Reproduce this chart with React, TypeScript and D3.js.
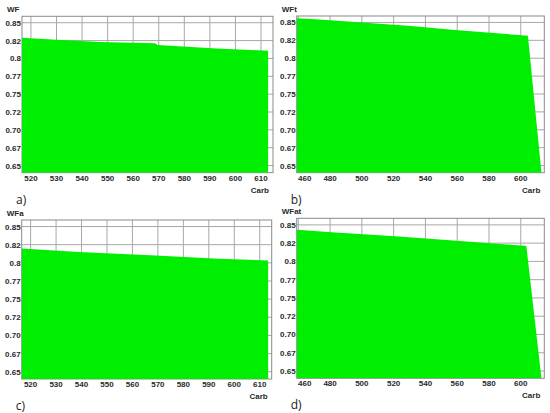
import * as d3 from "d3";

// ---- data ----
const yTicks = [0.65, 0.675, 0.7, 0.725, 0.75, 0.775, 0.8, 0.825, 0.85];
const yTickLabels = ["0.65", "0.67", "0.70", "0.72", "0.75", "0.77", "0.8", "0.82", "0.85"];

const xTicksNarrow = [520, 530, 540, 550, 560, 570, 580, 590, 600, 610];
const xTicksWide = [460, 480, 500, 520, 540, 560, 580, 600];

const carbA = [516.5, 530, 547, 568.5, 569.5, 592.5, 612.8];
const wfA = [0.829, 0.826, 0.823, 0.8211, 0.8187, 0.814, 0.8108];

const carbB = [459, 468.5, 529, 558.5, 604.5, 613];
const wfB = [0.856, 0.8548, 0.8454, 0.8394, 0.8314, 0.64];

const carbC = [516.5, 539, 569, 594, 613.3];
const wfC = [0.8196, 0.815, 0.8102, 0.8056, 0.8032];

const carbD = [459, 481, 521, 559.5, 603.5, 613];
const wfD = [0.8432, 0.84, 0.8344, 0.8282, 0.8212, 0.64];

const panels = [
  { id: "a", yTitle: "WF", tag: "a)", carb: carbA, wf: wfA, xDomain: [516.5, 614.7], xTicks: xTicksNarrow,
    rect: { l: 22, r: 273, t: 16.3, b: 172.7 } },
  { id: "b", yTitle: "WFt", tag: "b)", carb: carbB, wf: wfB, xDomain: [459, 614.8], xTicks: xTicksWide,
    rect: { l: 296.7, r: 544.3, t: 16, b: 172.7 } },
  { id: "c", yTitle: "WFa", tag: "c)", carb: carbC, wf: wfC, xDomain: [516.5, 614.7], xTicks: xTicksNarrow,
    rect: { l: 21.7, r: 271.7, t: 220, b: 379 } },
  { id: "d", yTitle: "WFat", tag: "d)", carb: carbD, wf: wfD, xDomain: [459, 614.8], xTicks: xTicksWide,
    rect: { l: 296.7, r: 544.3, t: 218.3, b: 378.3 } },
];

const font = "'Liberation Sans', Arial, sans-serif";
const textColor = "#2a2a2a";

function Panel({ p }: { p: (typeof panels)[number] }) {
  const { l, r, t, b } = p.rect;
  const x = d3.scaleLinear().domain(p.xDomain).range([l, r]);
  const y = d3.scaleLinear().domain([0.64, 0.859]).range([b, t]);
  const pts = p.carb.map((c, i) => [c, p.wf[i]] as [number, number]);
  const area = d3
    .area<[number, number]>()
    .x((d) => x(d[0]))
    .y0(b)
    .y1((d) => y(d[1]))(pts);

  return (
    <g>
      <defs>
        <clipPath id={"clip-" + p.id}>
          <rect x={l} y={t} width={r - l} height={b - t} />
        </clipPath>
      </defs>
      {/* grid */}
      {p.xTicks.map((v) => (
        <line key={"gx" + v} x1={x(v)} x2={x(v)} y1={t} y2={b} stroke="#a8a8a8" strokeWidth={1} />
      ))}
      {yTicks.map((v) => (
        <line key={"gy" + v} x1={l} x2={r} y1={y(v)} y2={y(v)} stroke="#a8a8a8" strokeWidth={1} />
      ))}
      <rect x={l} y={t} width={r - l} height={b - t} fill="none" stroke="#8a8a8a" strokeWidth={1} />
      {/* filled area */}
      <path d={area ?? ""} fill="#00ee00" clipPath={`url(#clip-${p.id})`} />
      {/* y tick labels */}
      {yTicks.map((v, i) => (
        <text key={"ty" + v} x={l - 1} y={y(v) + 3} textAnchor="end" fontSize={8} fontWeight="bold"
          fontFamily={font} fill={textColor}>
          {yTickLabels[i]}
        </text>
      ))}
      {/* x tick labels */}
      {p.xTicks.map((v) => (
        <text key={"tx" + v} x={Math.max(x(v), l + 8)} y={b + 8} textAnchor="middle" fontSize={8}
          fontWeight="bold" fontFamily={font} fill={textColor}>
          {v}
        </text>
      ))}
      <text x={l - 15} y={t - 4} fontSize={8} fontWeight="bold" fontFamily={font} fill={textColor}>
        {p.yTitle}
      </text>
      <text x={r - 4} y={b + 20} textAnchor="end" fontSize={8} fontWeight="bold" fontFamily={font}
        fill={textColor}>
        Carb
      </text>
      <text x={l - 6} y={b + 31} fontSize={12} fontFamily="'Open Sans', sans-serif" fill="#222">
        {p.tag}
      </text>
    </g>
  );
}

export default function App() {
  return (
    <svg width={550} height={413} style={{ position: "absolute", left: 0, top: 0, background: "#fff" }}>
      <rect width={550} height={413} fill="#fff" />
      {panels.map((p) => (
        <Panel key={p.id} p={p} />
      ))}
    </svg>
  );
}
